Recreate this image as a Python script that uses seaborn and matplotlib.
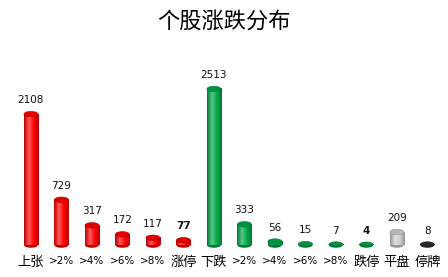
import matplotlib
matplotlib.use("Agg")
import matplotlib.pyplot as plt
import seaborn as sns
import numpy as np
import pandas as pd
from matplotlib.patches import Ellipse
from matplotlib.colors import LinearSegmentedColormap, to_rgb

categories = ["上张", ">2%", ">4%", ">6%", ">8%", "涨停", "下跌", ">2%", ">4%", ">6%", ">8%", "跌停", "平盘", "停牌"]
values = [2108, 729, 317, 172, 117, 77, 2513, 333, 56, 15, 7, 4, 209, 8]
groups = ["up"] * 6 + ["down"] * 6 + ["flat", "halt"]
title = "个股涨跌分布"

group_colors = {"up": "#FF0000", "down": "#00A84A", "flat": "#D0D0D0", "halt": "#303030"}

sns.set_theme(style="white")
plt.rcParams['font.family'] = ['Noto Sans CJK SC', 'DejaVu Sans']

df = pd.DataFrame({"pos": [str(i) for i in range(len(values))], "value": values, "group": groups})

fig = plt.figure(figsize=(4.48, 2.77), dpi=100)
ax = fig.add_axes([0.035, 0.1155, 0.953, 0.668])
sns.barplot(data=df, x="pos", y="value", hue="group", palette=group_colors,
            dodge=False, legend=False, width=0.46, ax=ax)
ax.set_ylim(0, 2980)
ax.set_xlim(-0.5, len(values) - 0.5)

# cylinder shading
ppd = 2980 / (0.668 * 277)  # data units per pixel
ell_h = 5.5 * ppd
bars = sorted([p for p in ax.patches if p.get_width() > 0], key=lambda p: p.get_x())
for p, g in zip(bars, groups):
    x0, w, h = p.get_x(), p.get_width(), p.get_height()
    base = np.array(to_rgb(group_colors[g]))
    dark = base * 0.72
    light = np.clip(base + (1 - base) * 0.35, 0, 1)
    cmap = LinearSegmentedColormap.from_list("c", [dark, light, base, dark])
    p.set_alpha(0)
    grad = np.linspace(0, 1, 64).reshape(1, -1)
    ax.imshow(grad, cmap=cmap, extent=(x0, x0 + w, 0, h), aspect="auto", zorder=2)
    bot = Ellipse((x0 + w / 2, 0), w, ell_h, facecolor=dark, edgecolor="none", zorder=1.9, clip_on=False)
    ax.add_patch(bot)
    top = Ellipse((x0 + w / 2, h), w, ell_h, facecolor=base * 0.88, edgecolor=dark, lw=0.4, zorder=3)
    ax.add_patch(top)

ax.set_aspect("auto")
ax.set_xlim(-0.5, len(values) - 0.5)
ax.set_ylim(0, 2980)

for i, (v, p) in enumerate(zip(values, bars)):
    weight = "bold" if v in (77, 4) else "normal"
    ax.text(p.get_x() + p.get_width() / 2, p.get_height() + 9 * ppd, str(v),
            ha="center", va="bottom", fontsize=7.5, fontweight=weight, color="#111111",
            family=['DejaVu Sans'])

ax.set_xticks(range(len(categories)))
ax.set_xticklabels(categories)
for lab in ax.get_xticklabels():
    if lab.get_text().startswith(">"):
        lab.set_fontsize(7.5)
        lab.set_family(['DejaVu Sans'])
    else:
        lab.set_fontsize(9.5)
ax.tick_params(axis="x", length=0, pad=8, colors="#000000")
ax.set_yticks([])
ax.set_xlabel("")
ax.set_ylabel("")
for s in ax.spines.values():
    s.set_visible(False)

fig.text(0.5, 0.924, title, ha="center", va="center", fontsize=16, color="#000000")

fig.savefig("out.png", dpi=100)
